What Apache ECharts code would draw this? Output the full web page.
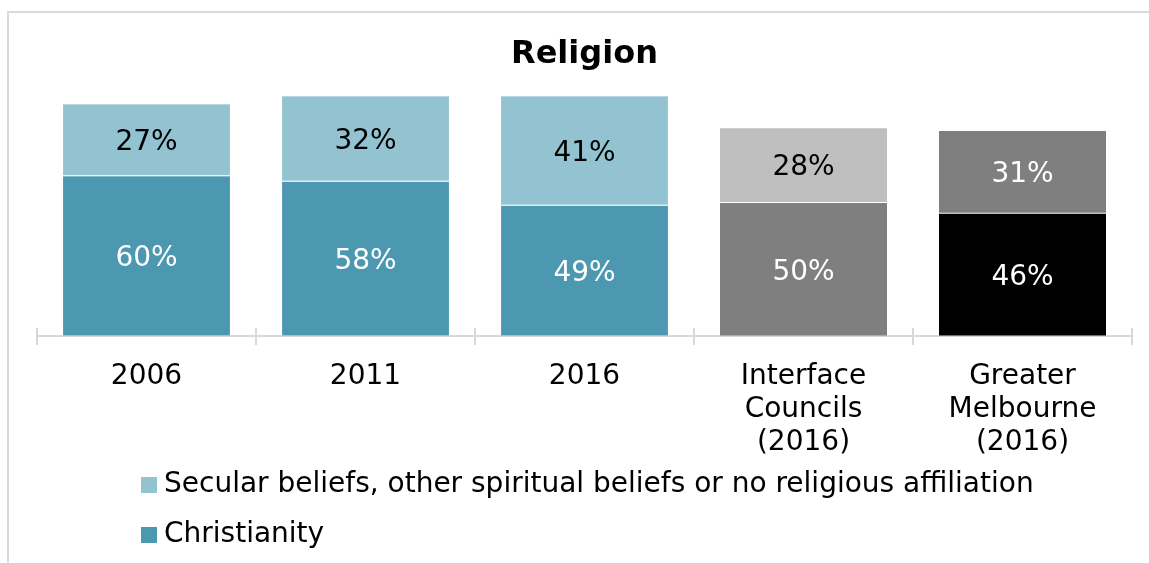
<!DOCTYPE html>
<html>
<head>
<meta charset="utf-8">
<title>Religion</title>
<script src="https://cdn.jsdelivr.net/npm/echarts@6/dist/echarts.min.js"></script>
<style>
  html, body { margin: 0; padding: 0; background: #fff; overflow: hidden; }
  #frame {
    position: absolute; left: 7px; top: 11px; width: 1300px; height: 700px;
    border-left: 2px solid #D9D9D9; border-top: 2px solid #D9D9D9;
  }
  #chart { position: absolute; left: 0; top: 0; width: 1149px; height: 563px; }
</style>
</head>
<body>
<div id="frame"></div>
<div id="chart"></div>
<script>
// Share of residents by religious affiliation (%)
const categories = ['2006', '2011', '2016', 'Interface\nCouncils\n(2016)', 'Greater\nMelbourne\n(2016)'];
const christianity = [60, 58, 49, 50, 46];
const secular = [27, 32, 41, 28, 31];
const seriesNames = ['Secular beliefs, other spiritual beliefs or no religious affiliation', 'Christianity'];

// Fill and label colours per column: the three local years in teal,
// the two comparison areas in greys.
const christianityFill = ['#4C98B0', '#4C98B0', '#4C98B0', '#7F7F7F', '#000000'];
const secularFill = ['#93C3D0', '#93C3D0', '#93C3D0', '#BFBFBF', '#7F7F7F'];
const christianityText = ['#fff', '#fff', '#fff', '#fff', '#fff'];
const secularText = ['#000', '#000', '#000', '#000', '#fff'];
const edgeColor = ['rgba(255,255,255,0.15)', 'rgba(255,255,255,0.15)', 'rgba(255,255,255,0.15)', 'rgba(0,0,0,0)', 'rgba(0,0,0,0)'];

const FONT = "'DejaVu Sans', Verdana, sans-serif";

function items(values, fills, texts) {
  return values.map((v, i) => ({
    value: v,
    itemStyle: { color: fills[i], borderColor: edgeColor[i] },
    label: { color: texts[i] }
  }));
}

const barCommon = {
  type: 'bar',
  stack: 'total',
  barWidth: 168,
  xAxisIndex: 0,
  itemStyle: { borderWidth: 1 },
  label: {
    show: true,
    position: 'inside',
    offset: [0, 3],
    fontFamily: FONT,
    fontSize: 28,
    formatter: '{c}%'
  },
  emphasis: { disabled: true }
};

const chart = echarts.init(document.getElementById('chart'), null, { renderer: 'canvas' });
chart.setOption({
  animation: false,
  backgroundColor: 'transparent',
  title: {
    text: 'Religion',
    left: 506,
    top: 34,
    textStyle: { fontFamily: FONT, fontSize: 32, fontWeight: 'bold', color: '#000' }
  },
  legend: {
    data: seriesNames,
    orient: 'vertical',
    left: 141,
    top: 470,
    padding: 0,
    icon: 'rect',
    itemWidth: 16,
    itemHeight: 16,
    itemGap: 20,
    textStyle: { fontFamily: FONT, fontSize: 28, lineHeight: 30, color: '#000', padding: [0, 0, 0, 2] }
  },
  grid: { left: 37, right: 17, top: 69, bottom: 227 },
  xAxis: [
    {
      type: 'category',
      data: categories,
      position: 'bottom',
      axisLine: { lineStyle: { color: '#D9D9D9', width: 2 } },
      axisTick: { show: true, length: 9, lineStyle: { color: '#D9D9D9', width: 2 } },
      axisLabel: {
        fontFamily: FONT, fontSize: 28, lineHeight: 33, color: '#000',
        margin: 24, interval: 0
      }
    },
    {
      // upper half of the boundary ticks, crossing the baseline
      type: 'category',
      data: categories,
      position: 'top',
      offset: -267,
      axisLine: { show: false },
      axisTick: { show: true, length: 8, lineStyle: { color: '#D9D9D9', width: 2 } },
      axisLabel: { show: false }
    }
  ],
  yAxis: { type: 'value', min: 0, max: 100, show: false },
  series: [
    Object.assign({}, barCommon, {
      name: seriesNames[1],
      color: christianityFill[0],
      data: items(christianity, christianityFill, christianityText)
    }),
    Object.assign({}, barCommon, {
      name: seriesNames[0],
      color: secularFill[0],
      data: items(secular, secularFill, secularText)
    })
  ]
});
</script>
</body>
</html>
